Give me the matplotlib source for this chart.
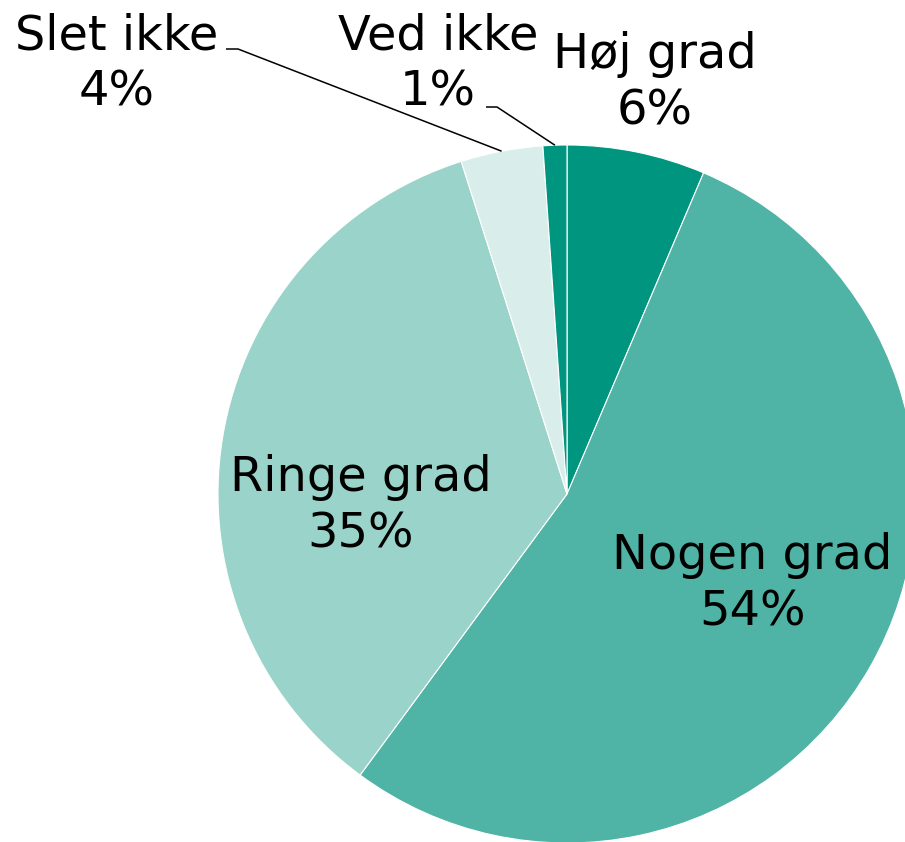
import matplotlib
matplotlib.use("Agg")
import matplotlib.pyplot as plt
import numpy as np

categories = ["Høj grad", "Nogen grad", "Ringe grad", "Slet ikke", "Ved ikke"]
values = [6.4, 53.7, 35.0, 3.8, 1.1]
pct_labels = ["6%", "54%", "35%", "4%", "1%"]
colors = ["#00957f", "#4fb3a5", "#99d3c9", "#d9eeeb", "#00957f"]

W, H = 905, 842
cx, cy, R = 567, 494, 349  # pixel layout of the pie

fig = plt.figure(figsize=(W / 100, H / 100), dpi=100)
ax = fig.add_axes([0, 0, 1, 1])
ax.axis("off")

wedges, _ = ax.pie(values, colors=colors, startangle=90, counterclock=False,
                   radius=1.0, wedgeprops=dict(edgecolor="white", linewidth=0.8))
ax.set_xlim(-cx / R, (W - cx) / R)
ax.set_ylim(-(H - cy) / R, cy / R)
ax.set_aspect("auto")


def px(x, y):
    return (x - cx) / R, (cy - y) / R


# label pixel positions (layout)
label_pos = {
    "Høj grad": (655, 83),
    "Nogen grad": (752, 584),
    "Ringe grad": (361, 506),
    "Slet ikke": (117, 64),
    "Ved ikke": (438, 64),
}
fs = 34.5
for cat, pl in zip(categories, pct_labels):
    x, y = px(*label_pos[cat])
    ax.text(x, y, f"{cat}\n{pl}", ha="center", va="center", fontsize=fs,
            family="DejaVu Sans", linespacing=1.25, color="black")

# leader lines for small slices
leaders = {
    "Slet ikke": ((226, 49), (238, 49)),
    "Ved ikke": ((486, 107), (497, 107)),
}
for cat, w in zip(categories, wedges):
    if cat in leaders:
        mid = np.deg2rad((w.theta1 + w.theta2) / 2)
        ex, ey = np.cos(mid), np.sin(mid)
        (x0, y0), (x1, y1) = leaders[cat]
        a = px(x0, y0)
        b = px(x1, y1)
        ax.plot([a[0], b[0], ex], [a[1], b[1], ey], color="black", lw=1.1,
                solid_capstyle="butt")

fig.savefig("out.png", dpi=100)
